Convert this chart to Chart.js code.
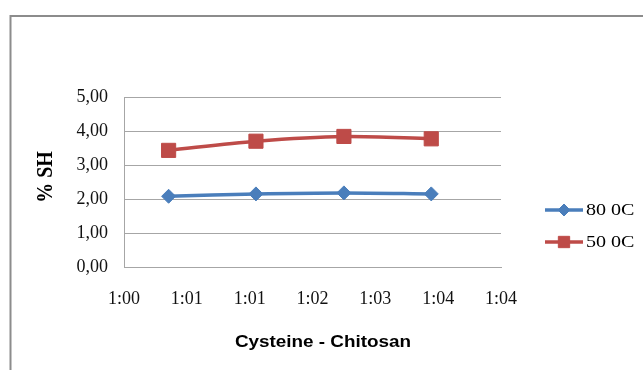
<!DOCTYPE html>
<html>
<head>
<meta charset="utf-8">
<script src="https://cdn.jsdelivr.net/npm/chart.js@4/dist/chart.umd.min.js"></script>
<style>
  html, body { margin: 0; padding: 0; background: #fff; }
  #wrap { width: 643px; height: 370px; position: relative; }
</style>
</head>
<body>
<div id="wrap"><canvas id="c" width="643" height="370"></canvas></div>
<script>
// Axis tick labels
const xTickLabels = ['1:00', '1:01', '1:01', '1:02', '1:03', '1:04', '1:04'];
const yTickLabels = ['0,00', '1,00', '2,00', '3,00', '4,00', '5,00'];

// Cysteine : chitosan ratio positions on the x axis
const ratioPositions = [0.71, 2.10, 3.50, 4.89];

// % SH per series
const sh80 = [2.08, 2.15, 2.18, 2.15];
const sh50 = [3.43, 3.70, 3.84, 3.77];

const seriesNames = ['80 0C', '50 0C'];
const xTitle = 'Cysteine - Chitosan';
const yTitle = '% SH';

const toPoints = (vals) => ratioPositions.map((x, i) => ({ x: x, y: vals[i] }));

// Frame, axis titles and the line-with-marker legend
const decorations = {
  id: 'decorations',
  beforeDraw(chart) {
    const ctx = chart.ctx;
    ctx.save();
    ctx.strokeStyle = '#8c8c8c';
    ctx.lineWidth = 2;
    ctx.beginPath();
    ctx.moveTo(10.5, 370);
    ctx.lineTo(10.5, 16);
    ctx.lineTo(643, 16);
    ctx.stroke();
    ctx.restore();
  },
  afterDraw(chart) {
    const ctx = chart.ctx;
    // y title
    ctx.save();
    ctx.translate(46, 177);
    ctx.scale(1.18, 1);
    ctx.rotate(-Math.PI / 2);
    ctx.font = 'bold 20px "Liberation Serif", "Times New Roman", serif';
    ctx.fillStyle = '#000';
    ctx.textAlign = 'center';
    ctx.textBaseline = 'middle';
    ctx.fillText(yTitle, 0, 0);
    ctx.restore();
    // x title
    ctx.save();
    ctx.translate(323, 343);
    ctx.scale(1.18, 1);
    ctx.font = 'bold 16px "Liberation Sans", Arial, sans-serif';
    ctx.fillStyle = '#000';
    ctx.textAlign = 'center';
    ctx.textBaseline = 'middle';
    ctx.fillText(xTitle, 0, 0);
    ctx.restore();
    // legend
    const rows = [210, 242];
    chart.data.datasets.forEach((ds, i) => {
      const y = rows[i];
      ctx.save();
      ctx.strokeStyle = ds.borderColor;
      ctx.lineWidth = 3.5;
      ctx.beginPath();
      ctx.moveTo(545, y);
      ctx.lineTo(583, y);
      ctx.stroke();
      ctx.fillStyle = ds.backgroundColor;
      ctx.strokeStyle = ds.borderColor;
      ctx.lineWidth = 1;
      Chart.helpers.drawPoint(ctx, {
        pointStyle: ds.pointStyle,
        radius: ds.legendRadius,
        rotation: 0,
        borderWidth: 1
      }, 564, y);
      ctx.translate(586, y);
      ctx.scale(1.18, 1);
      ctx.font = '17px "Liberation Serif", "Times New Roman", serif';
      ctx.fillStyle = '#000';
      ctx.textAlign = 'left';
      ctx.textBaseline = 'middle';
      ctx.fillText(ds.label, 0, 1);
      ctx.restore();
    });
  }
};

new Chart(document.getElementById('c'), {
  type: 'scatter',
  data: {
    datasets: [
      {
        label: seriesNames[0],
        data: toPoints(sh80),
        showLine: true,
        borderColor: '#4a7ebb',
        backgroundColor: '#4a7ebb',
        borderWidth: 3.5,
        pointStyle: 'rectRot',
        pointRadius: 7,
        pointBorderWidth: 1,
        legendRadius: 6,
        tension: 0.3
      },
      {
        label: seriesNames[1],
        data: toPoints(sh50),
        showLine: true,
        borderColor: '#be4b48',
        backgroundColor: '#be4b48',
        borderWidth: 3.5,
        pointStyle: 'rect',
        pointRadius: 10,
        pointBorderWidth: 1,
        legendRadius: 8,
        tension: 0.3
      }
    ]
  },
  options: {
    responsive: false,
    animation: false,
    devicePixelRatio: 1,
    layout: { padding: { top: 97, left: 0, right: 142, bottom: 0 } },
    plugins: {
      legend: { display: false },
      tooltip: { enabled: false }
    },
    scales: {
      x: {
        type: 'linear',
        min: 0,
        max: 6,
        afterFit: (s) => { s.height = 103; },
        ticks: {
          stepSize: 1,
          padding: 13,
          color: '#111',
          font: { family: '"Liberation Serif", "Times New Roman", serif', size: 18 },
          callback: (v, i) => xTickLabels[i]
        },
        grid: { display: false },
        border: { color: '#a6a6a6', width: 1 }
      },
      y: {
        min: 0,
        max: 5,
        afterFit: (s) => { s.width = 124; },
        ticks: {
          stepSize: 1,
          padding: 16,
          color: '#111',
          font: { family: '"Liberation Serif", "Times New Roman", serif', size: 18 },
          callback: (v, i) => yTickLabels[i]
        },
        grid: { color: '#a6a6a6', drawTicks: false },
        border: { color: '#a6a6a6', width: 1 }
      }
    }
  },
  plugins: [decorations]
});
</script>
</body>
</html>
